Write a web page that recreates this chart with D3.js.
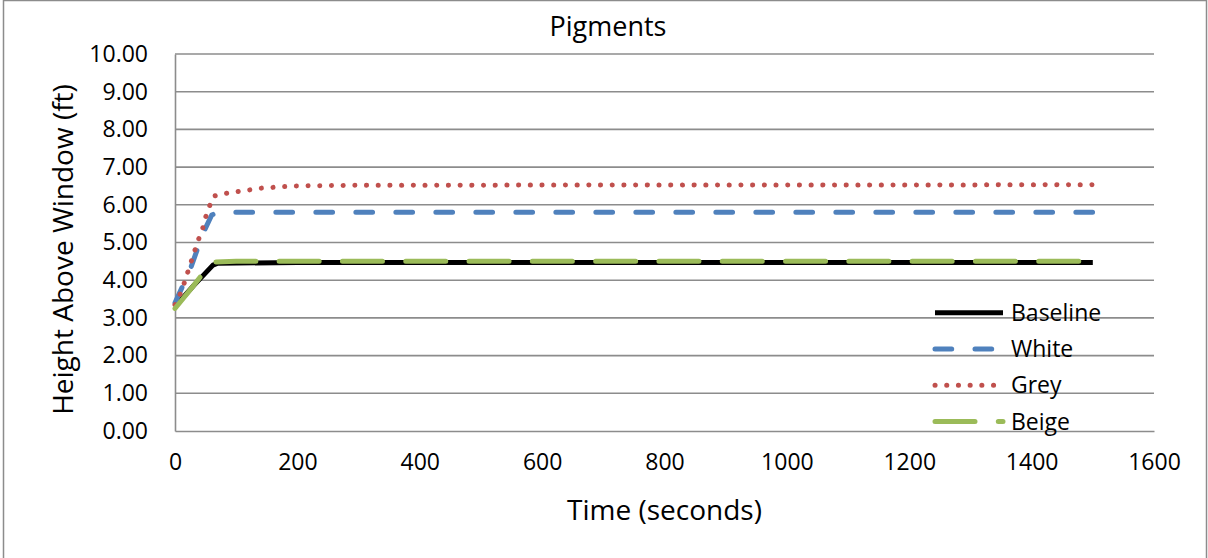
<!DOCTYPE html>
<html>
<head>
<meta charset="utf-8">
<script src="https://cdn.jsdelivr.net/npm/d3@7"></script>
<style>
html,body{margin:0;padding:0;background:#fff;}
svg{display:block;font-family:"Open Sans",sans-serif;}
</style>
</head>
<body>
<svg id="chart" width="1208" height="558"></svg>
<script>
const title = "Pigments";
const xTitle = "Time (seconds)";
const yTitle = "Height Above Window (ft)";
const xTicks = [0, 200, 400, 600, 800, 1000, 1200, 1400, 1600];
const yTicks = [0, 1, 2, 3, 4, 5, 6, 7, 8, 9, 10];
const seriesNames = ["Baseline", "White", "Grey", "Beige"];

const baselineT = [0, 30, 62, 70, 200, 1500];
const baselineV = [3.30, 3.85, 4.40, 4.45, 4.47, 4.47];
const whiteT = [0, 24, 35, 46, 60, 70, 1500];
const whiteV = [3.40, 4.25, 4.75, 5.25, 5.73, 5.80, 5.80];
const greyT = [0, 7, 14, 26, 32, 38, 45, 49, 56, 63, 82, 101, 120, 139, 158, 177, 196, 300, 1500];
const greyV = [3.35, 3.58, 3.87, 4.47, 4.77, 5.06, 5.36, 5.62, 5.95, 6.23, 6.30, 6.35, 6.39, 6.44, 6.46, 6.48, 6.50, 6.52, 6.53];
const beigeT = [0, 30, 60, 100, 1500];
const beigeV = [3.25, 3.85, 4.48, 4.50, 4.50];

const series = [
  {name: seriesNames[0], t: baselineT, v: baselineV, color: "#000000", dash: null, cap: "butt", w: 5},
  {name: seriesNames[1], t: whiteT, v: whiteV, color: "#4F81BD", dash: "16.7,23.3", cap: "round", w: 5},
  {name: seriesNames[2], t: greyT, v: greyV, color: "#C0504D", dash: "0.1,11.6", cap: "round", w: 5},
  {name: seriesNames[3], t: beigeT, v: beigeV, color: "#9BBB59", dash: "40,23.3", cap: "round", w: 5}
];

const svg = d3.select("#chart");
const L = 175, R = 1154, T = 54, B = 431;
const x = d3.scaleLinear().domain([0, 1600]).range([L, R]);
const y = d3.scaleLinear().domain([0, 10]).range([B, T]);

// outer border
svg.append("rect").attr("x", 3.5).attr("y", 0.5).attr("width", 1203).attr("height", 562)
  .attr("fill", "none").attr("stroke", "#8c8c8c").attr("stroke-width", 1.5);

// gridlines
svg.append("g").selectAll("line").data(yTicks.filter(d => d > 0)).join("line")
  .attr("x1", L).attr("x2", R).attr("y1", d => y(d)).attr("y2", d => y(d))
  .attr("stroke", "#8c8c8c").attr("stroke-width", 1.6);

// axes
const yAxis = d3.axisLeft(y).tickValues(yTicks).tickFormat(d3.format(".2f")).tickSize(0).tickPadding(27);
const gy = svg.append("g").attr("transform", `translate(${L},0)`).call(yAxis);
gy.select(".domain").attr("stroke", "#8c8c8c").attr("stroke-width", 1.6);
gy.selectAll("text").attr("font-size", 23).attr("fill", "#000").attr("font-family", "Open Sans");

const xAxis = d3.axisBottom(x).tickValues(xTicks).tickFormat(d3.format("d")).tickSize(0).tickPadding(23);
const gx = svg.append("g").attr("transform", `translate(0,${B})`).call(xAxis);
gx.select(".domain").attr("stroke", "#8c8c8c").attr("stroke-width", 1.6);
gx.selectAll("text").attr("font-size", 23).attr("fill", "#000").attr("font-family", "Open Sans");

// lines
const line = d3.line().x(d => x(d[0])).y(d => y(d[1]));
series.forEach(s => {
  const pts = s.t.map((t, i) => [t, s.v[i]]);
  svg.append("path").datum(pts).attr("d", line)
    .attr("fill", "none").attr("stroke", s.color).attr("stroke-width", s.w)
    .attr("stroke-linecap", s.cap).attr("stroke-linejoin", "round")
    .attr("stroke-dasharray", s.dash);
});

// legend
const lg = svg.append("g");
series.forEach((s, i) => {
  const ly = 312.7 + i * 36.3;
  lg.append("line").attr("x1", 935).attr("x2", 1003).attr("y1", ly).attr("y2", ly)
    .attr("stroke", s.color).attr("stroke-width", s.w).attr("stroke-linecap", s.cap)
    .attr("stroke-dasharray", s.dash);
  lg.append("text").attr("x", 1011).attr("y", ly).attr("dy", "0.35em")
    .attr("font-size", 23).text(s.name);
});

// titles
svg.append("text").attr("x", 608).attr("y", 36).attr("text-anchor", "middle")
  .attr("font-size", 27).text(title);
svg.append("text").attr("x", 664.5).attr("y", 520).attr("text-anchor", "middle")
  .attr("font-size", 28).text(xTitle);
svg.append("text").attr("transform", `translate(73,${(T + B) / 2 + 7}) rotate(-90)`)
  .attr("text-anchor", "middle").attr("font-size", 28).text(yTitle);
</script>
</body>
</html>
